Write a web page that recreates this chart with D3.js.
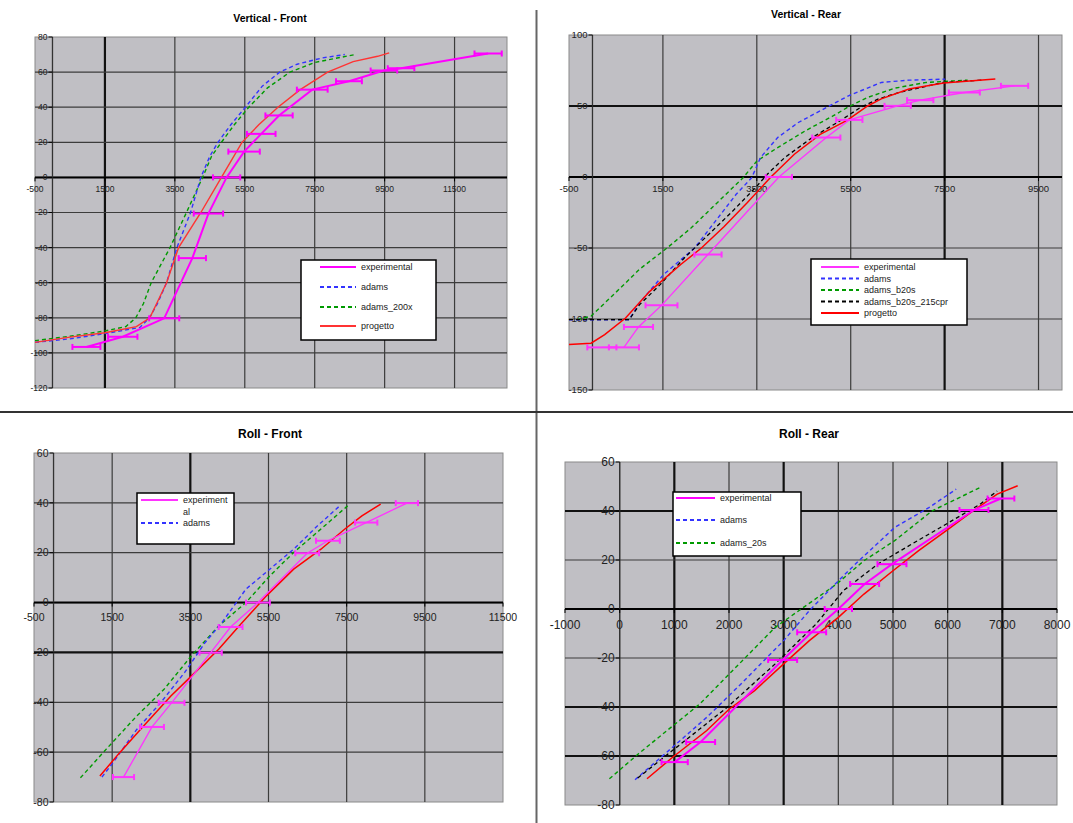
<!DOCTYPE html>
<html>
<head>
<meta charset="utf-8">
<script src="https://cdn.jsdelivr.net/npm/d3@7"></script>
<style>
  body { margin: 0; background: #fff; }
  svg { display: block; font-family: "Liberation Sans", Arial, sans-serif; }
</style>
</head>
<body>
<svg id="chart" width="1073" height="823"></svg>
<script>
/* -----------------------------
   1. Data
------------------------------*/
// Vertical - Front
const vfXTicks = [-500, 1500, 3500, 5500, 7500, 9500, 11500];
const vfYTicks = [-120, -100, -80, -60, -40, -20, 0, 20, 40, 60, 80];
const vfLabels = ["experimental", "adams", "adams_200x", "progetto"];
const vfExp = [[970, -96.6], [2010, -90.8], [3195, -80.3], [4000, -46], [4460, -20.6], [4980, 0], [5480, 14.7],
  [5970, 24.8], [6480, 35.3], [7430, 50], [8480, 54.8], [9480, 60.9], [9970, 62.2], [12460, 70.6]];
const vfExpErr = [400, 420, 430, 390, 420, 390, 450, 410, 390, 440, 370, 380, 380, 390];
const vfAdams = [[-500, -94], [500, -92], [1500, -89], [2500, -85.5], [2774, -80], [3000, -72], [3264, -60],
  [3558, -40], [3950, -20], [4244, 0], [4500, 12], [4734, 20], [5100, 30], [5518, 40], [6000, 52], [6498, 60],
  [7000, 64.5], [7700, 68], [8360, 70]];
const vfAdams200 = [[-500, -93], [500, -90.5], [1500, -87.5], [2100, -85], [2382, -80], [2600, -72], [2823, -60],
  [3362, -40], [3832, -20], [4293, 0], [4550, 12], [4832, 20], [5200, 30], [5616, 40], [6150, 51], [6792, 60],
  [7500, 65.5], [8654, 70]];
const vfProgetto = [[-500, -94], [500, -91], [1500, -88.5], [2400, -85], [2784, -80], [3000, -71], [3264, -60],
  [3607, -40], [4244, -20], [4832, 0], [5420, 20], [5900, 30], [6449, 40], [7086, 50], [7870, 60], [8600, 66],
  [9300, 69], [9630, 71]];

// Vertical - Rear
const vrXTicks = [-500, 1500, 3500, 5500, 7500, 9500];
const vrYTicks = [-150, -100, -50, 0, 50, 100];
const vrLabels = ["experimental", "adams", "adams_b20s", "adams_b20s_215cpr", "progetto"];
const vrExp = [[200, -120], [670, -120], [980, -105.6], [1470, -90.4], [2460, -54.6], [3970, 0], [4980, 27.8],
  [5470, 40.2], [6500, 50.1], [6980, 54.1], [7920, 59.5], [8990, 64.2]];
const vrExpErr = [310, 320, 310, 340, 290, 280, 300, 280, 280, 280, 330, 290];
const vrAdams = [[-500, -100.5], [779, -100.5], [1000, -88.7], [1515, -68.7], [2177, -49.9], [2619, -31.1],
  [3060, -12.2], [3392, -0.5], [3576, 13.6], [3944, 27.8], [4385, 38.4], [5048, 50.1], [5452, 57.2],
  [5857, 62.6], [6152, 66.6], [6740, 68.2], [7513, 68.9]];
const vrAdamsB20 = [[-325, -100.5], [-31, -98], [632, -77], [1000, -65], [1588, -50], [2104, -35.8],
  [2619, -19.3], [3208, -0.5], [3502, 11.3], [3944, 20.7], [4532, 32.5], [5121, 43], [5452, 49.4],
  [5857, 56], [6446, 62.6], [7108, 66.6], [7991, 68.2]];
const vrAdamsCpr = [[-500, -100.5], [779, -100.5], [1000, -90], [1441, -75.8], [1956, -57], [2472, -40.5],
  [2987, -24], [3502, -6.4], [3723, 1.9], [4091, 13.6], [4680, 27.8], [5268, 39.5], [5710, 49], [6078, 54.8],
  [6520, 59.5], [7476, 66.6], [8286, 68.2]];
const vrProgetto = [[-500, -118], [-30, -117], [260, -111], [705, -99.3], [1220, -80.5], [1880, -61.6],
  [2320, -50], [2800, -35], [3300, -18], [3800, 0], [4300, 16], [4850, 30], [5430, 40], [5860, 50],
  [6150, 55], [6740, 61.9], [7480, 66.2], [8580, 69]];

// Roll - Front
const rfXTicks = [-500, 1500, 3500, 5500, 7500, 9500, 11500];
const rfYTicks = [-80, -60, -40, -20, 0, 20, 40, 60];
const rfLabels = ["experiment", "adams"];
const rfExp = [[1790, -70], [2520, -49.9], [3020, -40.2], [4020, -20.1], [4530, -9.8], [5230, 0], [6490, 19.8],
  [7020, 24.8], [8000, 32.1], [9040, 39.9]];
const rfExpErr = [270, 305, 330, 285, 305, 305, 305, 305, 285, 285];
const rfAdams = [[1238, -70], [1517, -64.3], [2129, -50.9], [2740, -40.2], [3351, -28.1], [3875, -16.1],
  [4311, -8], [4922, 5.4], [5533, 13.4], [6144, 21.4], [6755, 30.8], [7323, 38.8]];
const rfAdams20 = [[688, -70.3], [1343, -58.9], [2129, -45.5], [2827, -34.8], [3525, -21.4], [4224, -9.4],
  [4922, 0], [5533, 10.7], [6144, 20.1], [6842, 29.5], [7523, 38.8]];
const rfProgetto = [[1186, -69.6], [1692, -60.2], [2303, -49.5], [3002, -37.5], [3525, -29.5], [4224, -18.7],
  [4748, -9.4], [5446, 2.7], [6144, 13.4], [6842, 21.4], [7454, 29.5], [7890, 34.8], [8370, 39.5]];

// Roll - Rear
const rrXTicks = [-1000, 0, 1000, 2000, 3000, 4000, 5000, 6000, 7000, 8000];
const rrYTicks = [-80, -60, -40, -20, 0, 20, 40, 60];
const rrLabels = ["experimental", "adams", "adams_20s"];
const rrExp = [[1006, -62.5], [1481, -54.3], [2981, -20.8], [3512, -9.5], [4000, 0], [4481, 10.2],
  [4981, 18.3], [6481, 40.4], [6975, 45.1]];
const rrExpErr = [240, 265, 265, 265, 250, 265, 265, 265, 245];
const rrAdams = [[281, -69.7], [969, -56.4], [1594, -44.2], [2219, -30.6], [3000, -12.9], [3469, -0.7],
  [4000, 11.5], [4375, 19.7], [5031, 33.3], [5656, 41.4], [6156, 48.9]];
const rrAdams20 = [[-188, -69.3], [344, -59.1], [1469, -38.7], [2006, -26.5], [2844, -7.5], [3969, 10.2],
  [4469, 19.7], [5031, 27.9], [5719, 40.1], [6594, 49.6]];
const rrAdamsCpr = [[330, -69], [969, -57.7], [1969, -40.1], [2844, -22.4], [3594, -6.1], [4094, 7.5],
  [4719, 18.3], [5344, 26.5], [5969, 34.6], [6594, 42.8], [6906, 48.2]];
const rrProgetto = [[500, -69.3], [969, -60.5], [1594, -49.6], [2006, -40.8], [2469, -33.3], [3000, -22.4],
  [3469, -12.9], [4000, -3.4], [4469, 6.1], [5000, 15.6], [5469, 23.8], [5969, 31.9], [6469, 40.1],
  [6906, 46.9], [7281, 50.3]];

/* -----------------------------
   2. Series styles
------------------------------*/
const EXP = { color: "#ff00ff", width: 2, dash: null };
const EXP_THIN = { color: "#ff33ff", width: 1.3, dash: null };
const ADAMS = { color: "#3333ff", width: 1.4, dash: "4,3" };
const GREEN = { color: "#009a00", width: 1.4, dash: "4,3" };
const BLACK = { color: "#000", width: 1.3, dash: "4,3" };
const RED = { color: "#ff0000", width: 1.5, dash: null };
const RED_LIGHT = { color: "#ff3333", width: 1.4, dash: null };

const panels = [
  {
    title: "Vertical - Front", tx: 270, ty: 22, tsize: 10.5,
    x0: 35, x1: 507, y0: 37, y1: 388, xd: [-500, 13000], yd: [-120, 80],
    xt: vfXTicks, yt: vfYTicks, fs: 8.5, xlOff: 15,
    boldX: [1500], boldY: [],
    lines: [[vfAdams200, GREEN], [vfAdams, ADAMS], [vfProgetto, RED_LIGHT], [vfExp, EXP]],
    exp: vfExp, err: vfExpErr, expStyle: EXP,
    legend: { x: 301, y: 260, w: 135, h: 80, ty: [267, 287, 307, 326], lx: 320, lw: 36,
      labels: vfLabels, styles: [EXP, ADAMS, GREEN, RED_LIGHT] }
  },
  {
    title: "Vertical - Rear", tx: 806, ty: 18, tsize: 10.5, clipTop: 10,
    x0: 569, x1: 1062, y0: 35, y1: 390, xd: [-500, 10000], yd: [-150, 100],
    xt: vrXTicks, yt: vrYTicks, fs: 9.5, xlOff: 15,
    boldX: [7500], boldY: [50],
    lines: [[vrAdamsB20, GREEN], [vrAdams, ADAMS], [vrAdamsCpr, BLACK], [vrProgetto, RED], [vrExp, EXP_THIN]],
    exp: vrExp, err: vrExpErr, expStyle: EXP_THIN,
    legend: { x: 811, y: 259, w: 156, h: 66, ty: [267, 278.5, 290, 301.5, 313], lx: 821, lw: 38,
      labels: vrLabels, styles: [EXP_THIN, ADAMS, GREEN, BLACK, RED] }
  },
  {
    title: "Roll - Front", tx: 270, ty: 438, tsize: 12,
    x0: 34, x1: 503, y0: 453, y1: 802, xd: [-500, 11500], yd: [-80, 60],
    xt: rfXTicks, yt: rfYTicks, fs: 10.5, xlOff: 18,
    boldX: [3500], boldY: [-20],
    lines: [[rfAdams20, GREEN], [rfAdams, ADAMS], [rfProgetto, RED], [rfExp, EXP_THIN]],
    exp: rfExp, err: rfExpErr, expStyle: EXP_THIN,
    legend: { x: 137, y: 493, w: 97, h: 51, ty: [500, 523], lx: 141, lw: 37,
      labels: rfLabels, styles: [EXP_THIN, ADAMS], wrap: "al" }
  },
  {
    title: "Roll - Rear", tx: 809, ty: 438, tsize: 12,
    x0: 565, x1: 1057, y0: 462, y1: 805, xd: [-1000, 8000], yd: [-80, 60],
    xt: rrXTicks, yt: rrYTicks, fs: 12, xlOff: 20,
    boldX: [1000, 3000, 7000], boldY: [40, -40, -60],
    lines: [[rrAdams20, GREEN], [rrAdams, ADAMS], [rrAdamsCpr, BLACK], [rrProgetto, RED], [rrExp, EXP]],
    exp: rrExp, err: rrExpErr, expStyle: EXP,
    legend: { x: 673, y: 492, w: 128, h: 64, ty: [498, 520, 543], lx: 676, lw: 39,
      labels: rrLabels, styles: [EXP, ADAMS, GREEN] }
  }
];

// Excel style labels use a plain hyphen, not the unicode minus
const fmt = d => String(d);

/* -----------------------------
   3. Draw
------------------------------*/
const svg = d3.select('#chart');
const defs = svg.append('defs');

// page separators
svg.append('line').attr('x1', 536.5).attr('x2', 536.5).attr('y1', 10).attr('y2', 823)
  .attr('stroke', '#666').attr('stroke-width', 2);
svg.append('line').attr('x1', 0).attr('x2', 1073).attr('y1', 412).attr('y2', 412)
  .attr('stroke', '#333').attr('stroke-width', 2);

panels.forEach((p, pi) => {
  const x = d3.scaleLinear().domain(p.xd).range([p.x0, p.x1]);
  const y = d3.scaleLinear().domain(p.yd).range([p.y1, p.y0]);
  const g = svg.append('g');

  g.append('rect')
    .attr('x', p.x0).attr('y', p.y0)
    .attr('width', p.x1 - p.x0).attr('height', p.y1 - p.y0)
    .attr('fill', '#c0bfc4').attr('stroke', '#8a8a8a').attr('stroke-width', 1);

  // gridlines
  g.selectAll('.gx').data(p.xt.filter(t => t > p.xd[0] && t < p.xd[1])).join('line')
    .attr('x1', d => x(d)).attr('x2', d => x(d)).attr('y1', p.y0).attr('y2', p.y1)
    .attr('stroke', d => p.boldX.includes(d) ? '#111' : '#3c3c3c')
    .attr('stroke-width', d => p.boldX.includes(d) ? 2.2 : 1.2);
  g.selectAll('.gy').data(p.yt.filter(t => t > p.yd[0] && t < p.yd[1])).join('line')
    .attr('x1', p.x0).attr('x2', p.x1).attr('y1', d => y(d)).attr('y2', d => y(d))
    .attr('stroke', d => p.boldY.includes(d) ? '#111' : '#3c3c3c')
    .attr('stroke-width', d => p.boldY.includes(d) ? 2.2 : 1.2);

  // axes crossing at zero
  g.append('line').attr('x1', p.x0).attr('x2', p.x1).attr('y1', y(0)).attr('y2', y(0))
    .attr('stroke', '#000').attr('stroke-width', 2);
  g.append('line').attr('x1', x(0)).attr('x2', x(0)).attr('y1', p.y0).attr('y2', p.y1)
    .attr('stroke', '#333').attr('stroke-width', 1.3);

  // tick marks + labels
  g.selectAll('.tx').data(p.xt).join('line')
    .attr('x1', d => x(d)).attr('x2', d => x(d)).attr('y1', y(0)).attr('y2', y(0) + 4)
    .attr('stroke', '#000');
  g.selectAll('.ty').data(p.yt).join('line')
    .attr('x1', x(0) - 4).attr('x2', x(0)).attr('y1', d => y(d)).attr('y2', d => y(d))
    .attr('stroke', '#000');

  g.selectAll('.lx').data(p.xt).join('text')
    .attr('x', d => x(d)).attr('y', y(0) + p.xlOff)
    .attr('text-anchor', 'middle').attr('font-size', p.fs).attr('fill', '#222')
    .text(fmt);
  g.selectAll('.ly').data(p.yt).join('text')
    .attr('x', x(0) - 5).attr('y', d => y(d)).attr('dy', '0.35em')
    .attr('text-anchor', 'end').attr('font-size', p.fs).attr('fill', '#222')
    .text(fmt);

  // series
  const line = d3.line().x(d => x(d[0])).y(d => y(d[1]));
  p.lines.forEach(([data, st]) => {
    g.append('path').datum(data)
      .attr('d', line)
      .attr('fill', 'none')
      .attr('stroke', st.color)
      .attr('stroke-width', st.width)
      .attr('stroke-dasharray', st.dash);
  });

  // experimental error bars
  const eb = g.append('g').attr('stroke', p.expStyle.color).attr('stroke-width', 2);
  p.exp.forEach((d, i) => {
    const xa = x(d[0] - p.err[i]), xb = x(d[0] + p.err[i]), yy = y(d[1]);
    eb.append('line').attr('x1', xa).attr('x2', xb).attr('y1', yy).attr('y2', yy);
    eb.append('line').attr('x1', xa).attr('x2', xa).attr('y1', yy - 3).attr('y2', yy + 3);
    eb.append('line').attr('x1', xb).attr('x2', xb).attr('y1', yy - 3).attr('y2', yy + 3);
  });

  // title (the rear one is cut at the top of the page)
  const title = svg.append('text')
    .attr('x', p.tx).attr('y', p.ty)
    .attr('text-anchor', 'middle').attr('font-weight', 'bold').attr('font-size', p.tsize)
    .text(p.title);
  if (p.clipTop) {
    defs.append('clipPath').attr('id', 'tclip' + pi)
      .append('rect').attr('x', 0).attr('y', p.clipTop).attr('width', 1073).attr('height', 40);
    title.attr('clip-path', `url(#tclip${pi})`);
  }

  // legend
  const L = p.legend;
  const lg = svg.append('g');
  lg.append('rect').attr('x', L.x).attr('y', L.y).attr('width', L.w).attr('height', L.h)
    .attr('fill', '#fff').attr('stroke', '#000').attr('stroke-width', 1.5);
  L.labels.forEach((lab, i) => {
    const st = L.styles[i];
    lg.append('line').attr('x1', L.lx).attr('x2', L.lx + L.lw).attr('y1', L.ty[i]).attr('y2', L.ty[i])
      .attr('stroke', st.color).attr('stroke-width', Math.max(st.width, 1.8))
      .attr('stroke-dasharray', st.dash);
    lg.append('text').attr('x', L.lx + L.lw + 5).attr('y', L.ty[i]).attr('dy', '0.35em')
      .attr('font-size', 9).attr('fill', '#222').text(lab);
  });
  if (L.wrap) {
    lg.append('text').attr('x', L.lx + L.lw + 5).attr('y', (L.ty[0] + L.ty[1]) / 2).attr('dy', '0.35em')
      .attr('font-size', 9).attr('fill', '#222').text(L.wrap);
  }
});
</script>
</body>
</html>
